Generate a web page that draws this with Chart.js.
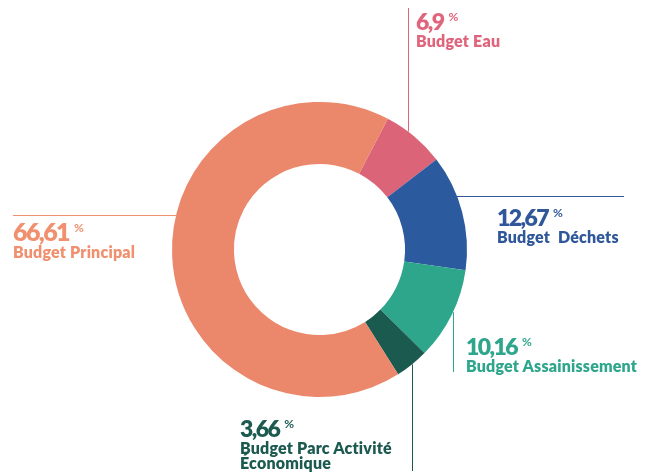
<!DOCTYPE html>
<html lang="fr">
<head>
<meta charset="utf-8">
<title>Répartition des budgets</title>
<script src="https://cdn.jsdelivr.net/npm/chart.js@4.4.1/dist/chart.umd.min.js"></script>
<style>
    html, body { margin: 0; padding: 0; background: #fff; }
    #wrap { position: relative; width: 646px; height: 474px; overflow: hidden; }
    #chart-budgets { position: absolute; left: 0; top: 0; }
    .lbl { position: absolute; font-family: Lato, 'Open Sans', sans-serif; font-weight: 700; white-space: nowrap; }
    .lbl .val { font-size: 23px; line-height: 22px; letter-spacing: -1.6px; font-weight: 800; }
    .lbl.big .val { font-size: 25px; }
    .lbl .pct { font-size: 12px; vertical-align: 9px; margin-left: 5px; }
    .lbl .name { font-size: 16px; line-height: 15px; font-weight: 800; letter-spacing: 0.2px; }
</style>
</head>
<body>
<div id="wrap">
    <canvas id="chart-budgets" width="646" height="474"></canvas>
</div>
<script>
// Budget split (%), clockwise starting from Budget Eau
const categories = ['Budget Eau', 'Budget  Déchets', 'Budget Assainissement', 'Budget Parc Activité\nÉconomique', 'Budget Principal'];
const shares = [6.9, 12.67, 10.16, 3.66, 66.61];
const shareLabels = ['6,9', '12,67', '10,16', '3,66', '66,61'];
const sliceColors = ['#DC6479', '#2C5A9E', '#2EA68C', '#1B5A4E', '#EB876A'];
const textColors = ['#E0647C', '#2F579A', '#2EA68C', '#1C5A50', '#F0906F'];

// label box (left, top of value) and leader line for each slice
const labelPos = [
    { x: 416, y: 9, line: { type: 'v', x: 408, from: 8 } },
    { x: 497, y: 205, line: { type: 'h', y: 196, to: 624 } },
    { x: 466, y: 334, line: { type: 'v', x: 453, to: 372 } },
    { x: 240, y: 416, line: { type: 'v', x: 412, to: 471 } },
    { x: 13, y: 220, big: true, line: { type: 'h', y: 215, to: 13 } }
];

// leader lines start on the outer edge of the ring
const leaderLines = {
    id: 'leaderLines',
    afterDatasetsDraw(chart) {
        const arc = chart.getDatasetMeta(0).data[0];
        if (!arc) return;
        const cx = arc.x, cy = arc.y, r = arc.outerRadius;
        const ctx = chart.ctx;
        ctx.save();
        ctx.lineWidth = 1;
        labelPos.forEach((p, i) => {
            const l = p.line;
            ctx.strokeStyle = textColors[i];
            ctx.beginPath();
            if (l.type === 'v') {
                const dy = Math.sqrt(Math.max(0, r * r - (l.x - cx) * (l.x - cx)));
                const edge = l.from !== undefined ? cy - dy : cy + dy;
                const end = l.from !== undefined ? l.from : l.to;
                ctx.moveTo(l.x + 0.5, edge);
                ctx.lineTo(l.x + 0.5, end);
            } else {
                const dx = Math.sqrt(Math.max(0, r * r - (l.y - cy) * (l.y - cy)));
                const edge = l.to < cx ? cx - dx : cx + dx;
                ctx.moveTo(edge, l.y + 0.5);
                ctx.lineTo(l.to, l.y + 0.5);
            }
            ctx.stroke();
        });
        ctx.restore();
    }
};

new Chart(document.getElementById('chart-budgets'), {
    type: 'doughnut',
    data: {
        labels: categories,
        datasets: [{
            data: shares,
            backgroundColor: sliceColors,
            borderWidth: 0,
            hoverOffset: 0,
            offset: 0
        }]
    },
    options: {
        responsive: false,
        animation: false,
        rotation: 27.6,
        cutout: '58%',
        layout: {
            padding: { left: 172, right: 179, top: 102, bottom: 77 }
        },
        plugins: {
            legend: { display: false },
            tooltip: { enabled: false }
        }
    },
    plugins: [leaderLines]
});

// text labels as real html text
const wrap = document.getElementById('wrap');
labelPos.forEach((p, i) => {
    const div = document.createElement('div');
    div.className = p.big ? 'lbl big' : 'lbl';
    div.style.left = p.x + 'px';
    div.style.top = p.y + 'px';
    div.style.color = textColors[i];
    const val = document.createElement('div');
    val.innerHTML = '<span class="val">' + shareLabels[i] + '</span><span class="pct">%</span>';
    const name = document.createElement('div');
    name.className = 'name';
    name.style.whiteSpace = 'pre';
    name.textContent = categories[i];
    div.appendChild(val);
    div.appendChild(name);
    wrap.appendChild(div);
});
</script>
</body>
</html>
